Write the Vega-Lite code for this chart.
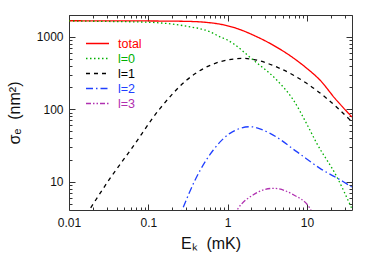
{
  "$schema": "https://vega.github.io/schema/vega-lite/v6.json",
  "width": 283,
  "height": 195,
  "autosize": "none",
  "padding": {"left": 69, "top": 15, "right": 23, "bottom": 53},
  "background": "white",
  "config": {
    "view": {"stroke": "#333333", "strokeWidth": 1},
    "font": "Liberation Sans",
    "axis": {
      "domain": false,
      "grid": false,
      "labelFont": "Liberation Sans",
      "labelFontSize": 12,
      "labelColor": "#111111",
      "titleFont": "Liberation Sans",
      "titleFontWeight": "normal",
      "titleFontSize": 16,
      "titleColor": "#111111",
      "tickColor": "#333333",
      "tickWidth": 1
    }
  },
  "data": {
    "values": [
      {"s": "total", "E": 0.01, "v": 1665},
      {"s": "total", "E": 0.03, "v": 1663},
      {"s": "total", "E": 0.1, "v": 1655},
      {"s": "total", "E": 0.3, "v": 1635},
      {"s": "total", "E": 0.545, "v": 1580},
      {"s": "total", "E": 0.8, "v": 1496},
      {"s": "total", "E": 1.0, "v": 1420},
      {"s": "total", "E": 1.4, "v": 1270},
      {"s": "total", "E": 2.11, "v": 1055},
      {"s": "total", "E": 3.5, "v": 800},
      {"s": "total", "E": 5.56, "v": 590},
      {"s": "total", "E": 10, "v": 366},
      {"s": "total", "E": 14.6, "v": 253},
      {"s": "total", "E": 22.6, "v": 141},
      {"s": "total", "E": 37, "v": 78},
      {"s": "l=0", "E": 0.01, "v": 1655},
      {"s": "l=0", "E": 0.03, "v": 1630},
      {"s": "l=0", "E": 0.1, "v": 1590},
      {"s": "l=0", "E": 0.141, "v": 1555},
      {"s": "l=0", "E": 0.3, "v": 1403},
      {"s": "l=0", "E": 0.6, "v": 1172},
      {"s": "l=0", "E": 0.8, "v": 1000},
      {"s": "l=0", "E": 1.0, "v": 900},
      {"s": "l=0", "E": 2.11, "v": 477},
      {"s": "l=0", "E": 4.16, "v": 253},
      {"s": "l=0", "E": 6.75, "v": 134},
      {"s": "l=0", "E": 10, "v": 62},
      {"s": "l=0", "E": 13.3, "v": 33.9},
      {"s": "l=0", "E": 23.8, "v": 11.7},
      {"s": "l=0", "E": 37, "v": 4.2},
      {"s": "l=1", "E": 0.01, "v": 1.5},
      {"s": "l=1", "E": 0.018, "v": 4.07},
      {"s": "l=1", "E": 0.0329, "v": 11.1},
      {"s": "l=1", "E": 0.0618, "v": 28.9},
      {"s": "l=1", "E": 0.141, "v": 103},
      {"s": "l=1", "E": 0.305, "v": 253},
      {"s": "l=1", "E": 0.8, "v": 452},
      {"s": "l=1", "E": 1.58, "v": 503},
      {"s": "l=1", "E": 4.58, "v": 366},
      {"s": "l=1", "E": 9.93, "v": 228},
      {"s": "l=1", "E": 17.8, "v": 141},
      {"s": "l=1", "E": 37, "v": 67},
      {"s": "l=2", "E": 0.2, "v": 1.9},
      {"s": "l=2", "E": 0.272, "v": 4.3},
      {"s": "l=2", "E": 0.388, "v": 10.5},
      {"s": "l=2", "E": 0.66, "v": 27.4},
      {"s": "l=2", "E": 1.07, "v": 46.5},
      {"s": "l=2", "E": 1.92, "v": 57.4},
      {"s": "l=2", "E": 3.43, "v": 46.5},
      {"s": "l=2", "E": 7.43, "v": 26},
      {"s": "l=2", "E": 14.6, "v": 15.3},
      {"s": "l=2", "E": 28.8, "v": 10},
      {"s": "l=2", "E": 37, "v": 8.4},
      {"s": "l=3", "E": 1.0, "v": 2.3},
      {"s": "l=3", "E": 1.36, "v": 4.3},
      {"s": "l=3", "E": 2.11, "v": 6.6},
      {"s": "l=3", "E": 3.77, "v": 8.1},
      {"s": "l=3", "E": 6.75, "v": 6.6},
      {"s": "l=3", "E": 10.9, "v": 4.3},
      {"s": "l=3", "E": 15, "v": 1.9}
    ]
  },
  "layer": [
    {
      "mark": {"type": "line", "clip": true, "strokeWidth": 1.3, "interpolate": "monotone"},
      "encoding": {
        "x": {
          "field": "E", "type": "quantitative",
          "scale": {"type": "log", "domain": [0.01, 37], "nice": false},
          "axis": {
            "orient": "bottom",
            "title": "Eₖ\u00a0\u00a0(mK)",
            "titlePadding": 4,
            "values": [0.01,0.02,0.03,0.04,0.05,0.06,0.07,0.08,0.09,0.1,0.2,0.3,0.4,0.5,0.6,0.7,0.8,0.9,1,2,3,4,5,6,7,8,9,10,20,30],
            "labelExpr": "indexof([0.01,0.1,1,10], datum.value) >= 0 ? datum.label : ''",
            "tickSize": {"condition": {"test": "indexof([0.01,0.1,1,10], datum.value) >= 0", "value": -6}, "value": -3},
            "labelPadding": 13,
            "labelFlush": false,
            "labelOverlap": false
          }
        },
        "y": {
          "field": "v", "type": "quantitative",
          "scale": {"type": "log", "domain": [4.07, 2000], "nice": false},
          "axis": {
            "orient": "left",
            "title": "σₑ\u00a0\u00a0(nm²)",
            "format": "d",
            "values": [5,6,7,8,9,10,20,30,40,50,60,70,80,90,100,200,300,400,500,600,700,800,900,1000,2000],
            "labelExpr": "indexof([10,100,1000], datum.value) >= 0 ? datum.label : ''",
            "tickSize": {"condition": {"test": "indexof([10,100,1000], datum.value) >= 0", "value": -6}, "value": -3},
            "labelPadding": 12,
            "labelFlush": false,
            "labelOverlap": false,
            "titlePadding": 14
          }
        },
        "color": {
          "field": "s", "type": "nominal",
          "scale": {"domain": ["total", "l=0", "l=1", "l=2", "l=3"], "range": ["#ff0000", "#00b000", "#000000", "#2040ff", "#b030b0"]},
          "legend": {
            "title": null, "orient": "none", "legendX": 16, "legendY": 21,
            "symbolType": "stroke", "symbolSize": 529, "symbolStrokeWidth": 1.3,
            "labelFontSize": 12.5, "labelFont": "Liberation Sans", "labelOffset": 8,
            "clipHeight": 15, "rowPadding": 0,
            "encode": {"labels": {"update": {"fill": {"scale": "color", "field": "value"}}}}
          }
        },
        "strokeDash": {
          "field": "s", "type": "nominal",
          "scale": {"domain": ["total", "l=0", "l=1", "l=2", "l=3"], "range": [[1, 0], [1.5, 2.5], [4, 4], [7, 3, 1.5, 3], [5, 2, 1.5, 2, 1.5, 2]]},
          "legend": {
            "title": null, "orient": "none", "legendX": 16, "legendY": 21,
            "symbolType": "stroke", "symbolSize": 529, "symbolStrokeWidth": 1.3,
            "labelFontSize": 12.5, "labelFont": "Liberation Sans", "labelOffset": 8,
            "clipHeight": 15, "rowPadding": 0,
            "encode": {"labels": {"update": {"fill": {"scale": "color", "field": "value"}}}}
          }
        }
      }
    },
    {
      "mark": {"type": "line", "opacity": 0},
      "encoding": {
        "x": {
          "field": "E", "type": "quantitative",
          "scale": {"type": "log", "domain": [0.01, 37], "nice": false},
          "axis": {
            "orient": "top", "title": null, "labels": false,
            "values": [0.01,0.02,0.03,0.04,0.05,0.06,0.07,0.08,0.09,0.1,0.2,0.3,0.4,0.5,0.6,0.7,0.8,0.9,1,2,3,4,5,6,7,8,9,10,20,30],
            "tickSize": {"condition": {"test": "indexof([0.01,0.1,1,10], datum.value) >= 0", "value": -6}, "value": -3}
          }
        },
        "y": {
          "field": "v", "type": "quantitative",
          "scale": {"type": "log", "domain": [4.07, 2000], "nice": false},
          "axis": {
            "orient": "right", "title": null, "labels": false,
            "values": [5,6,7,8,9,10,20,30,40,50,60,70,80,90,100,200,300,400,500,600,700,800,900,1000,2000],
            "tickSize": {"condition": {"test": "indexof([10,100,1000], datum.value) >= 0", "value": -6}, "value": -3}
          }
        },
        "detail": {"field": "s", "type": "nominal"}
      }
    }
  ],
  "resolve": {"axis": {"x": "independent", "y": "independent"}}
}
